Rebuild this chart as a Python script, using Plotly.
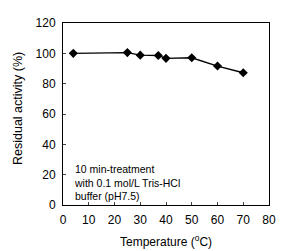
import plotly.graph_objects as go

temperature = [4, 25, 30, 37, 40, 50, 60, 70]
residual_activity = [100.0, 100.5, 98.8, 98.6, 96.7, 97.1, 91.6, 87.2]
x_ticks = [0, 10, 20, 30, 40, 50, 60, 70, 80]
y_ticks = [0, 20, 40, 60, 80, 100, 120]
x_title = "Temperature (<sup>o</sup>C)"
y_title = "Residual activity (%)"
note = "10 min-treatment<br>with 0.1 mol/L Tris-HCl<br>buffer (pH7.5)"

fig = go.Figure()
fig.add_trace(go.Scatter(
    x=temperature, y=residual_activity, mode="lines+markers",
    line=dict(color="black", width=1.4),
    marker=dict(symbol="diamond", size=7, color="black"),
    showlegend=False,
))

fam = "Liberation Sans, Arial, sans-serif"
font = dict(family=fam, size=12, color="black")
fig.update_layout(
    width=288, height=251,
    margin=dict(l=63, r=12, t=23, b=46),
    paper_bgcolor="white", plot_bgcolor="white",
    font=font,
    xaxis=dict(range=[0, 80], tickvals=x_ticks, ticks="inside", ticklen=3,
               ticklabelstandoff=4,
               showline=True, linecolor="black", linewidth=1, mirror=True,
               showgrid=False, zeroline=False),
    yaxis=dict(range=[0, 120], tickvals=y_ticks, ticks="inside", ticklen=3,
               ticklabelstandoff=4,
               showline=True, linecolor="black", linewidth=1, mirror=True,
               showgrid=False, zeroline=False),
    annotations=[
        dict(x=0.045, y=0.24, xref="paper", yref="paper", xanchor="left", yanchor="top",
             align="left", showarrow=False, text=note,
             font=dict(family=fam, size=10.5, color="black")),
        dict(x=0.5, y=0, xref="paper", yref="paper", xanchor="center", yanchor="middle",
             yshift=-36, showarrow=False, text=x_title, font=font),
        dict(x=0, y=0.5, xref="paper", yref="paper", xanchor="center", yanchor="middle",
             xshift=-45, yshift=5, textangle=-90, showarrow=False, text=y_title,
             font=dict(family=fam, size=12.5, color="black")),
    ],
)
fig.write_html("out.html", config={"displayModeBar": False},
               post_script="document.body.style.margin='0';")
